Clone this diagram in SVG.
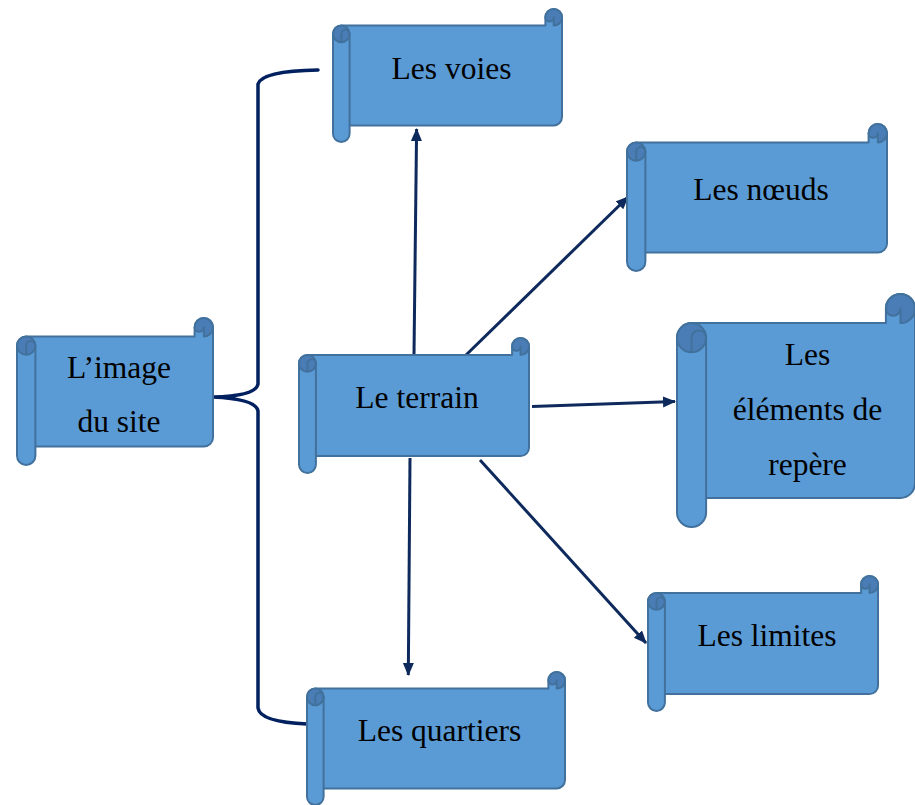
<svg xmlns="http://www.w3.org/2000/svg" width="915" height="805" viewBox="0 0 915 805">
<style>
.body{fill:#5B9BD5;stroke:#41719C;stroke-width:2;stroke-linejoin:round}
.dark{fill:#4A7DB5;stroke:#41719C;stroke-width:2;stroke-linejoin:round}
.ln{fill:none;stroke:#41719C;stroke-width:2}
text{font-family:"Liberation Serif","Times New Roman",serif;font-size:31.5px;fill:#000;text-anchor:middle}
.brace{fill:none;stroke:#002060;stroke-width:3.5;stroke-linejoin:round;stroke-linecap:round}
.arr{fill:none;stroke:#0E2A5C;stroke-width:3;marker-end:url(#ah)}
</style>
<defs>
<marker id="ah" markerUnits="userSpaceOnUse" markerWidth="14" markerHeight="12" refX="12" refY="5.5" orient="auto">
<path d="M0,0 L13,5.5 L0,11 Z" fill="#0E2A5C"/>
</marker>
</defs>
<g id="connectors">
<path class="brace" d="M318,70 Q262,71 258,84 L258,384 Q256,396 213,397 Q256,399 258,411 L258,708 Q260,722 307,724"/>
<path class="arr" d="M414,355 L416.6,129"/>
<path class="arr" d="M465,356 L628,197"/>
<path class="arr" d="M532,406.5 L675,401.5"/>
<path class="arr" d="M480,460 L646,643"/>
<path class="arr" d="M410,458 L408.3,675"/>
</g>
<g id="node-voies">
<g transform="translate(333,9)">
<path class="body" d="M229,8.3 L229,108.1 A8.3 8.3 0 0 1 220.7,116.4 L16.6,116.4 L16.6,124.7 A8.3 8.3 0 0 1 0,124.7 L0,24.9 A8.3 8.3 0 0 1 8.3,16.6 L212.4,16.6 L212.4,8.3 A8.3 8.3 0 0 1 229,8.3 Z"/>
<path class="dark" d="M212.4,8.3 A8.3 8.3 0 0 1 229,8.3 A8.3 8.3 0 0 1 220.7,16.6 L220.7,8.3 A4.15 4.15 0 0 1 212.4,8.3 Z"/>
<circle class="dark" cx="8.3" cy="24.9" r="8.3"/>
<path class="ln" d="M8.3,33.2 L8.3,24.9 A4.15 4.15 0 0 1 16.6,24.9 M16.6,24.9 L16.6,116.4"/>
</g>
<text x="451.5" y="79">Les voies</text>
</g>
<g id="node-image">
<g transform="translate(17,318)">
<path class="body" d="M196,9.2 L196,119.4 A9.2 9.2 0 0 1 186.8,128.6 L18.4,128.6 L18.4,137.8 A9.2 9.2 0 0 1 0,137.8 L0,27.6 A9.2 9.2 0 0 1 9.2,18.4 L177.6,18.4 L177.6,9.2 A9.2 9.2 0 0 1 196,9.2 Z"/>
<path class="dark" d="M177.6,9.2 A9.2 9.2 0 0 1 196,9.2 A9.2 9.2 0 0 1 186.8,18.4 L186.8,9.2 A4.6 4.6 0 0 1 177.6,9.2 Z"/>
<circle class="dark" cx="9.2" cy="27.6" r="9.2"/>
<path class="ln" d="M9.2,36.8 L9.2,27.6 A4.6 4.6 0 0 1 18.4,27.6 M18.4,27.6 L18.4,128.6"/>
</g>
<text x="119" y="378">L’image</text>
<text x="119" y="432">du site</text>
</g>
<g id="node-terrain">
<g transform="translate(299,338)">
<path class="body" d="M230,8.45 L230,109.65 A8.45 8.45 0 0 1 221.55,118.1 L16.9,118.1 L16.9,126.55 A8.45 8.45 0 0 1 0,126.55 L0,25.35 A8.45 8.45 0 0 1 8.45,16.9 L213.1,16.9 L213.1,8.45 A8.45 8.45 0 0 1 230,8.45 Z"/>
<path class="dark" d="M213.1,8.45 A8.45 8.45 0 0 1 230,8.45 A8.45 8.45 0 0 1 221.55,16.9 L221.55,8.45 A4.225 4.225 0 0 1 213.1,8.45 Z"/>
<circle class="dark" cx="8.45" cy="25.35" r="8.45"/>
<path class="ln" d="M8.45,33.8 L8.45,25.35 A4.225 4.225 0 0 1 16.9,25.35 M16.9,25.35 L16.9,118.1"/>
</g>
<text x="417" y="408">Le terrain</text>
</g>
<g id="node-noeuds">
<g transform="translate(627,124)">
<path class="body" d="M260,9.2 L260,119.4 A9.2 9.2 0 0 1 250.8,128.6 L18.4,128.6 L18.4,137.8 A9.2 9.2 0 0 1 0,137.8 L0,27.6 A9.2 9.2 0 0 1 9.2,18.4 L241.6,18.4 L241.6,9.2 A9.2 9.2 0 0 1 260,9.2 Z"/>
<path class="dark" d="M241.6,9.2 A9.2 9.2 0 0 1 260,9.2 A9.2 9.2 0 0 1 250.8,18.4 L250.8,9.2 A4.6 4.6 0 0 1 241.6,9.2 Z"/>
<circle class="dark" cx="9.2" cy="27.6" r="9.2"/>
<path class="ln" d="M9.2,36.8 L9.2,27.6 A4.6 4.6 0 0 1 18.4,27.6 M18.4,27.6 L18.4,128.6"/>
</g>
<text x="761" y="200">Les nœuds</text>
</g>
<g id="node-elements">
<g transform="translate(677,294)">
<path class="body" d="M238,14.55 L238,189.35 A14.55 14.55 0 0 1 223.45,203.9 L29.1,203.9 L29.1,218.45 A14.55 14.55 0 0 1 0,218.45 L0,43.65 A14.55 14.55 0 0 1 14.55,29.1 L208.9,29.1 L208.9,14.55 A14.55 14.55 0 0 1 238,14.55 Z"/>
<path class="dark" d="M208.9,14.55 A14.55 14.55 0 0 1 238,14.55 A14.55 14.55 0 0 1 223.45,29.1 L223.45,14.55 A7.275 7.275 0 0 1 208.9,14.55 Z"/>
<circle class="dark" cx="14.55" cy="43.65" r="14.55"/>
<path class="ln" d="M14.55,58.2 L14.55,43.65 A7.275 7.275 0 0 1 29.1,43.65 M29.1,43.65 L29.1,203.9"/>
</g>
<text x="807.5" y="365">Les</text>
<text x="807.5" y="420">éléments de</text>
<text x="807.5" y="475">repère</text>
</g>
<g id="node-limites">
<g transform="translate(648,576)">
<path class="body" d="M230,8.45 L230,109.65 A8.45 8.45 0 0 1 221.55,118.1 L16.9,118.1 L16.9,126.55 A8.45 8.45 0 0 1 0,126.55 L0,25.35 A8.45 8.45 0 0 1 8.45,16.9 L213.1,16.9 L213.1,8.45 A8.45 8.45 0 0 1 230,8.45 Z"/>
<path class="dark" d="M213.1,8.45 A8.45 8.45 0 0 1 230,8.45 A8.45 8.45 0 0 1 221.55,16.9 L221.55,8.45 A4.225 4.225 0 0 1 213.1,8.45 Z"/>
<circle class="dark" cx="8.45" cy="25.35" r="8.45"/>
<path class="ln" d="M8.45,33.8 L8.45,25.35 A4.225 4.225 0 0 1 16.9,25.35 M16.9,25.35 L16.9,118.1"/>
</g>
<text x="767" y="646">Les limites</text>
</g>
<g id="node-quartiers">
<g transform="translate(307,672)">
<path class="body" d="M258,8.3 L258,108.1 A8.3 8.3 0 0 1 249.7,116.4 L16.6,116.4 L16.6,124.7 A8.3 8.3 0 0 1 0,124.7 L0,24.9 A8.3 8.3 0 0 1 8.3,16.6 L241.4,16.6 L241.4,8.3 A8.3 8.3 0 0 1 258,8.3 Z"/>
<path class="dark" d="M241.4,8.3 A8.3 8.3 0 0 1 258,8.3 A8.3 8.3 0 0 1 249.7,16.6 L249.7,8.3 A4.15 4.15 0 0 1 241.4,8.3 Z"/>
<circle class="dark" cx="8.3" cy="24.9" r="8.3"/>
<path class="ln" d="M8.3,33.2 L8.3,24.9 A4.15 4.15 0 0 1 16.6,24.9 M16.6,24.9 L16.6,116.4"/>
</g>
<text x="439.5" y="741">Les quartiers</text>
</g>
</svg>
